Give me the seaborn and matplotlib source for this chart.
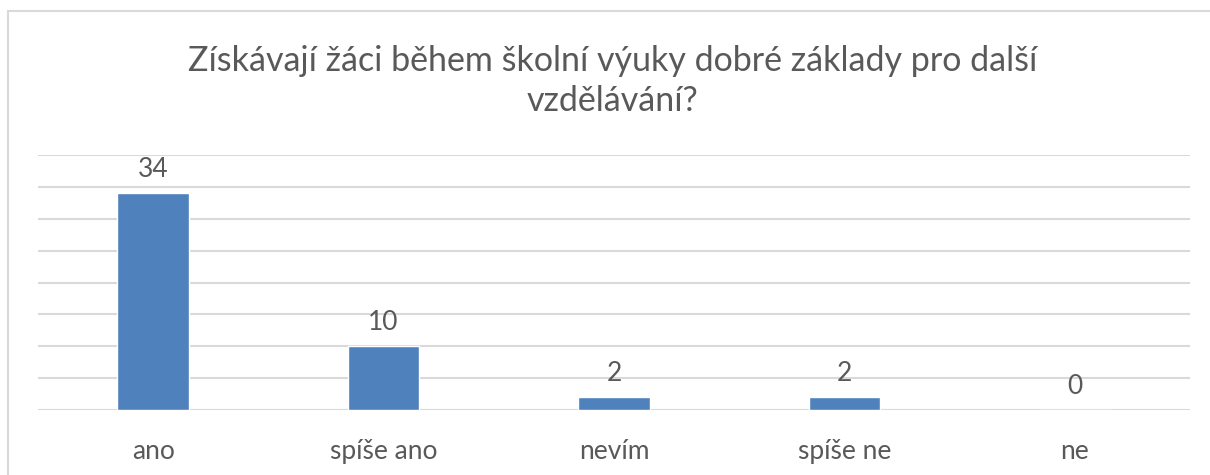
import matplotlib
matplotlib.use("Agg")
import matplotlib.pyplot as plt
import seaborn as sns
import pandas as pd
from matplotlib.patches import Rectangle

categories = ["ano", "spíše ano", "nevím", "spíše ne", "ne"]
counts = [34, 10, 2, 2, 0]
title = "Získávají žáci během školní výuky dobré základy pro další\nvzdělávání?"

df = pd.DataFrame({"odpoved": categories, "pocet": counts})

sns.set_style("white")
plt.rcParams["font.family"] = ["Lato", "DejaVu Sans"]
text_color = "#595959"

fig = plt.figure(figsize=(12.1, 4.75), dpi=100)
# chart frame
fig.patches.append(Rectangle((8 / 1210, -0.1), 1.2, 1 - 11 / 475 + 0.1, transform=fig.transFigure,
                             fill=False, edgecolor="#D9D9D9", linewidth=1.5))

ax = fig.add_axes([38 / 1210, 1 - 410 / 475, (1190 - 38) / 1210, (410 - 155) / 475])
sns.barplot(data=df, x="odpoved", y="pocet", color="#4F81BD", width=0.31, saturation=1, ax=ax, zorder=3)

ax.set_ylim(0, 40)
ax.set_yticks(range(0, 41, 5))
ax.yaxis.grid(True, color="#D9D9D9", linewidth=1.5, zorder=0)
ax.set_yticklabels([])
ax.tick_params(axis="y", length=0)
ax.tick_params(axis="x", length=0, pad=21, labelsize=19, labelcolor=text_color)
ax.set_xlabel("")
ax.set_ylabel("")
for s in ax.spines.values():
    s.set_visible(False)
ax.set_axisbelow(True)

for i, v in enumerate(counts):
    ax.annotate(str(v), (i, v), xytext=(0, 17), textcoords="offset points",
                ha="center", va="center", fontsize=19, color=text_color)

fig.text(0.506, 1 - 81 / 475, title, ha="center", va="center", fontsize=24.5,
         color=text_color, linespacing=1.3)

fig.savefig("out.png", dpi=100)
